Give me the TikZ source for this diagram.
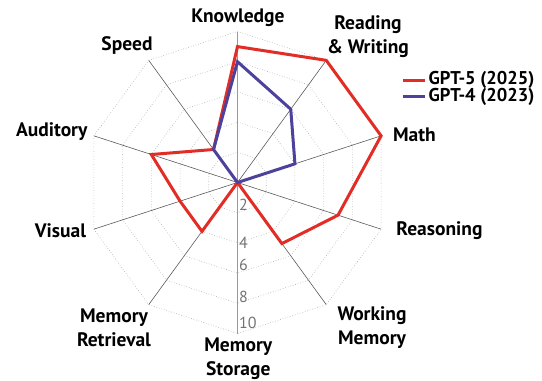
\documentclass[tikz,border=0pt]{standalone}
\usepackage{fontspec}
\setmainfont{PT Sans}
\definecolor{gptfive}{RGB}{226,45,38}
\definecolor{gptfour}{RGB}{76,66,155}
\definecolor{axisgray}{RGB}{90,90,90}
\definecolor{ringgray}{RGB}{170,170,170}
\begin{document}
\begin{tikzpicture}[x=1pt,y=1pt,
	ring/.style={color=ringgray,line width=0.6pt,dotted},
	spoke/.style={color=axisgray,line width=0.6pt},
	mainspoke/.style={color=black!40,line width=1.5pt},
	score/.style={line width=3pt,miter limit=10},
	axislabel/.style={rectangle,inner sep=0pt,font=\fontsize{19.5}{24}\selectfont\bfseries,align=center},
	ticklabel/.style={rectangle,inner sep=0pt,anchor=west,color=black!55,font=\fontsize{16}{16}\selectfont},
	legendlabel/.style={rectangle,inner sep=0pt,anchor=west,font=\fontsize{18.5}{18.5}\selectfont\bfseries}]
	
	\useasboundingbox (-237.5,-198.5) rectangle (304.5,182.5);
	
	%axes
	\coordinate (c) at (0,0);
	\coordinate (kn) at (90:151);
	\coordinate (rw) at (54:151);
	\coordinate (ma) at (18:151);
	\coordinate (re) at (-18:151);
	\coordinate (wm) at (-54:151);
	\coordinate (ms) at (-90:151);
	\coordinate (mr) at (-126:151);
	\coordinate (vi) at (-162:151);
	\coordinate (au) at (162:151);
	\coordinate (sp) at (126:151);
	
	%grid
	\draw[ring] (90:30.2) -- (54:30.2) -- (18:30.2) -- (-18:30.2) -- (-54:30.2) -- (-90:30.2) -- (-126:30.2) -- (-162:30.2) -- (162:30.2) -- (126:30.2) -- cycle;
	\draw[ring] (90:60.4) -- (54:60.4) -- (18:60.4) -- (-18:60.4) -- (-54:60.4) -- (-90:60.4) -- (-126:60.4) -- (-162:60.4) -- (162:60.4) -- (126:60.4) -- cycle;
	\draw[ring] (90:90.6) -- (54:90.6) -- (18:90.6) -- (-18:90.6) -- (-54:90.6) -- (-90:90.6) -- (-126:90.6) -- (-162:90.6) -- (162:90.6) -- (126:90.6) -- cycle;
	\draw[ring] (90:120.8) -- (54:120.8) -- (18:120.8) -- (-18:120.8) -- (-54:120.8) -- (-90:120.8) -- (-126:120.8) -- (-162:120.8) -- (162:120.8) -- (126:120.8) -- cycle;
	\draw[ring] (kn) -- (rw) -- (ma) -- (re) -- (wm) -- (ms) -- (mr) -- (vi) -- (au) -- (sp) -- cycle;
	\draw[spoke] (c) -- (rw);
	\draw[spoke] (c) -- (ma);
	\draw[spoke] (c) -- (re);
	\draw[spoke] (c) -- (wm);
	\draw[spoke] (c) -- (mr);
	\draw[spoke] (c) -- (vi);
	\draw[spoke] (c) -- (au);
	\draw[spoke] (c) -- (sp);
	\draw[mainspoke] (kn) -- (ms);
	
	%ticks
	\node[ticklabel](tick2) at (1.5,-22.5) {2};
	\node[ticklabel](tick4) at (1.5,-60.8) {4};
	\node[ticklabel](tick6) at (1.5,-82.5) {6};
	\node[ticklabel](tick8) at (1.5,-114.2) {8};
	\node[ticklabel](tick10) at (1.5,-140.8) {10};
	
	%scores
	\draw[score,color=gptfive] (90:135.9) -- (54:151) -- (18:151) -- (-18:105.7) -- (-54:75.5) -- (c) -- (-126:60.4) -- (-162:60.4) -- (162:90.6) -- (126:40.8) -- cycle;
	\draw[score,color=gptfour] (90:120.8) -- (54:90.6) -- (18:60.4) -- (c) -- (126:40.8) -- cycle;
	
	%labels
	\node[axislabel](knowledge) at (0.5,164.5) {Knowledge};
	\node[axislabel](reading) at (130.5,145.5) {Reading\\\& Writing};
	\node[axislabel](math) at (177,47.5) {Math};
	\node[axislabel](reasoning) at (202,-48.2) {Reasoning};
	\node[axislabel](working) at (134.5,-145.5) {Working\\Memory};
	\node[axislabel](storage) at (0.8,-176.5) {Memory\\Storage};
	\node[axislabel](retrieval) at (-123.5,-145.5) {Memory\\Retrieval};
	\node[axislabel](visual) at (-177,-48.2) {Visual};
	\node[axislabel](auditory) at (-185.8,50.8) {Auditory};
	\node[axislabel](speed) at (-110.5,137.5) {Speed};
	
	%legend
	\coordinate (fivea) at (165.2,102.5);
	\coordinate (fiveb) at (187.5,102.5);
	\coordinate (foura) at (165.2,85.8);
	\coordinate (fourb) at (187.5,85.8);
	\draw[score,color=gptfive] (fivea) -- (fiveb);
	\draw[score,color=gptfour] (foura) -- (fourb);
	\node[legendlabel](five) at (191,102.5) {GPT-5 (2025)};
	\node[legendlabel](four) at (191,85.8) {GPT-4 (2023)};
\end{tikzpicture}
\end{document}
